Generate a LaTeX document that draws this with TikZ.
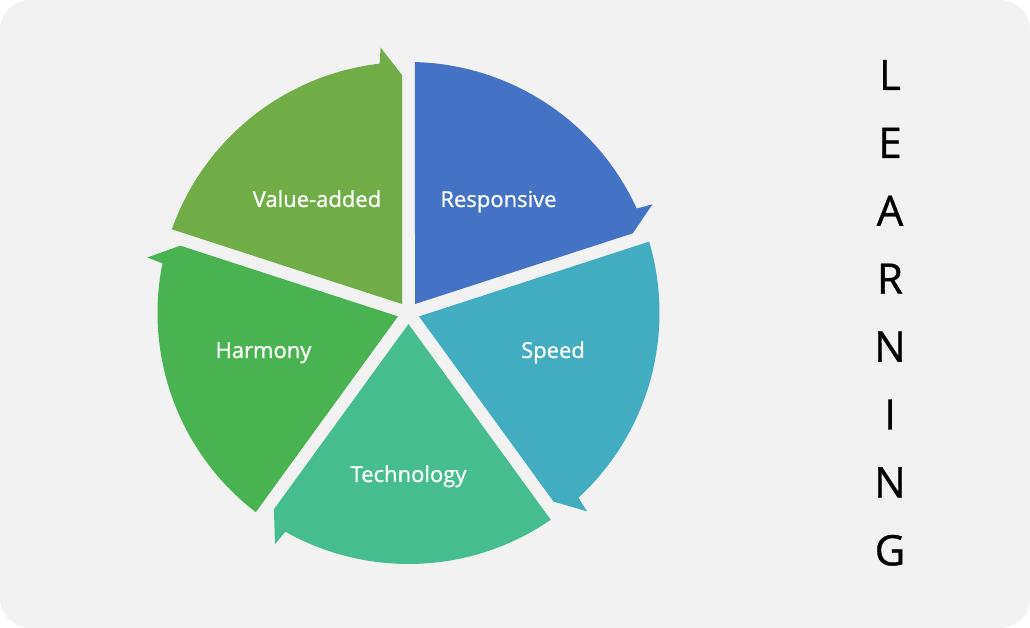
\documentclass[tikz,border=0pt]{standalone}
\usepackage{fontspec}
\setmainfont{Open Sans}[FakeBold=0.8]
\definecolor{bgc}{HTML}{F2F2F2}
\definecolor{cResp}{HTML}{4472C4}
\definecolor{cSpeed}{HTML}{42ADC1}
\definecolor{cTech}{HTML}{45BD8F}
\definecolor{cHarm}{HTML}{49B351}
\definecolor{cVal}{HTML}{71AD47}
\begin{document}
\begin{tikzpicture}[x=1pt,y=1pt,
  lbl/.style={text=white, font=\fontsize{22}{26}\selectfont, inner sep=0pt, anchor=base},
  big/.style={text=black, font=\fontsize{42}{48}\selectfont, inner sep=0pt, anchor=base}]
\useasboundingbox (0,0) rectangle (1030,628);
\fill[white] (0,0) rectangle (1030,628);
\fill[bgc, rounded corners=30pt] (0,0) rectangle (1030,628);
\coordinate (c) at (408.5,315);
\foreach \e/\col in {18/cResp, -54/cSpeed, -126/cTech, -198/cHarm, 90/cVal} {
  \fill[\col, shift={(c)}] ({\e+36}:11.06) -- ({\e+70.52}:251)
    arc[start angle=\e+70.52, end angle=\e+6.6, radius=251]
    -- ({\e+6}:267) -- ({\e+1.565}:238) -- cycle;
}
\node[lbl] (resp) at (498.5,421) {Responsive};
\node[lbl] (val) at (317,421) {Value-added};
\node[lbl] (harm) at (263.5,270) {Harmony};
\node[lbl] (speed) at (553,270) {Speed};
\node[lbl] (tech) at (408.5,146) {Technology};
\foreach \l [count=\i from 0] in {L,E,A,R,N,I,N,G} {
  \node[big] (l\i) at (890,{538-67.9*\i}) {\l};
}
\end{tikzpicture}
\end{document}
